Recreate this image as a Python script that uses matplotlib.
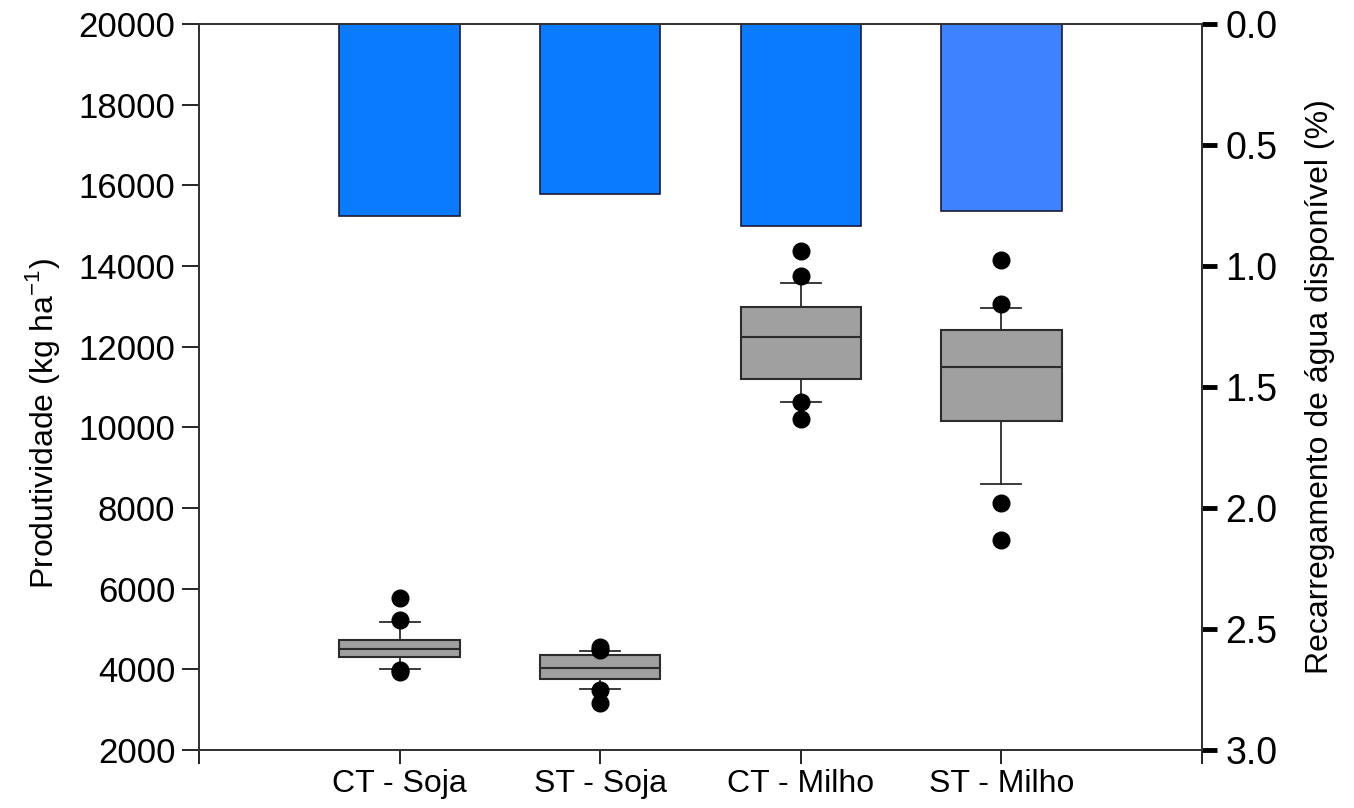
import matplotlib
matplotlib.use("Agg")
import matplotlib.pyplot as plt

# Dados
TRATAMENTOS = ["CT - Soja", "ST - Soja", "CT - Milho", "ST - Milho"]
POSICOES = [1, 2, 3, 4]

# Recarregamento (%) - barras no eixo da direita
RECARGA = [0.793, 0.702, 0.835, 0.773]
CORES_BARRAS = ["#0a7bff", "#0a7bff", "#0a7bff", "#3f82ff"]

# Produtividade (kg/ha) - boxplots
Q1 = [4294, 3763, 11198, 10146]
MEDIANA = [4502, 4037, 12234, 11504]
Q3 = [4717, 4343, 12980, 12424]
WHIS_LO = [4004, 3514, 10634, 8587]
WHIS_HI = [5173, 4442, 13585, 12956]
OUTLIERS = [
    [5770, 5230, 3980, 3930],
    [4560, 4490, 3480, 3170],
    [14370, 13760, 10620, 10200],
    [14160, 13060, 8130, 7200],
]

FONTE = ["Liberation Sans", "DejaVu Sans"]

plt.rcParams["font.family"] = FONTE

fig = plt.figure(figsize=(13.54, 8.08), dpi=100)
ax = fig.add_axes([0.147, 0.0718, 0.7407, 0.8985])

stats = []
for i in range(len(TRATAMENTOS)):
    stats.append({
        "med": MEDIANA[i], "q1": Q1[i], "q3": Q3[i],
        "whislo": WHIS_LO[i], "whishi": WHIS_HI[i],
        "fliers": OUTLIERS[i],
    })

ax.bxp(stats, positions=POSICOES, widths=0.6, capwidths=0.2,
       patch_artist=True, showfliers=True,
       boxprops=dict(facecolor="#a0a0a0", edgecolor="#2b2b2b", linewidth=1.5),
       medianprops=dict(color="#2b2b2b", linewidth=1.5),
       whiskerprops=dict(color="#2b2b2b", linewidth=1.3),
       capprops=dict(color="#2b2b2b", linewidth=1.3),
       flierprops=dict(marker="o", markerfacecolor="black",
                       markeredgecolor="black", markersize=12))

ax.set_xlim(0, 5)
ax.set_ylim(2000, 20000)
ax.set_yticks(range(2000, 20001, 2000))
ax.set_xticks([0, 1, 2, 3, 4, 5])
ax.set_xticklabels([""] + TRATAMENTOS + [""], fontsize=23)
ax.tick_params(axis="y", direction="out", length=12, width=1.2, labelsize=25, pad=5)
ax.tick_params(axis="x", direction="out", length=10, width=1.2, pad=4)
ax.set_ylabel("Produtividade (kg ha$^{\\mathregular{-1}}$)", fontsize=23)
ax.yaxis.set_label_coords(-0.137, 0.45)

ax2 = ax.twinx()
ax2.bar(POSICOES, RECARGA, width=0.6, bottom=0, color=CORES_BARRAS,
        edgecolor="#1a1a3a", linewidth=1.2)
ax2.set_ylim(3.0, 0.0)
ax2.set_yticks([0.0, 0.5, 1.0, 1.5, 2.0, 2.5, 3.0])
ax2.set_yticklabels(["0.0", "0.5", "1.0", "1.5", "2.0", "2.5", "3.0"])
ax2.tick_params(axis="y", direction="out", length=11, width=3.5, labelsize=27, pad=6)
ax2.set_ylabel("Recarregamento de água disponível (%)", fontsize=23,
               rotation=90, labelpad=20)

for a in (ax, ax2):
    for s in a.spines.values():
        s.set_linewidth(1.4)
        s.set_color("#333333")

fig.savefig("out.png", dpi=100)
